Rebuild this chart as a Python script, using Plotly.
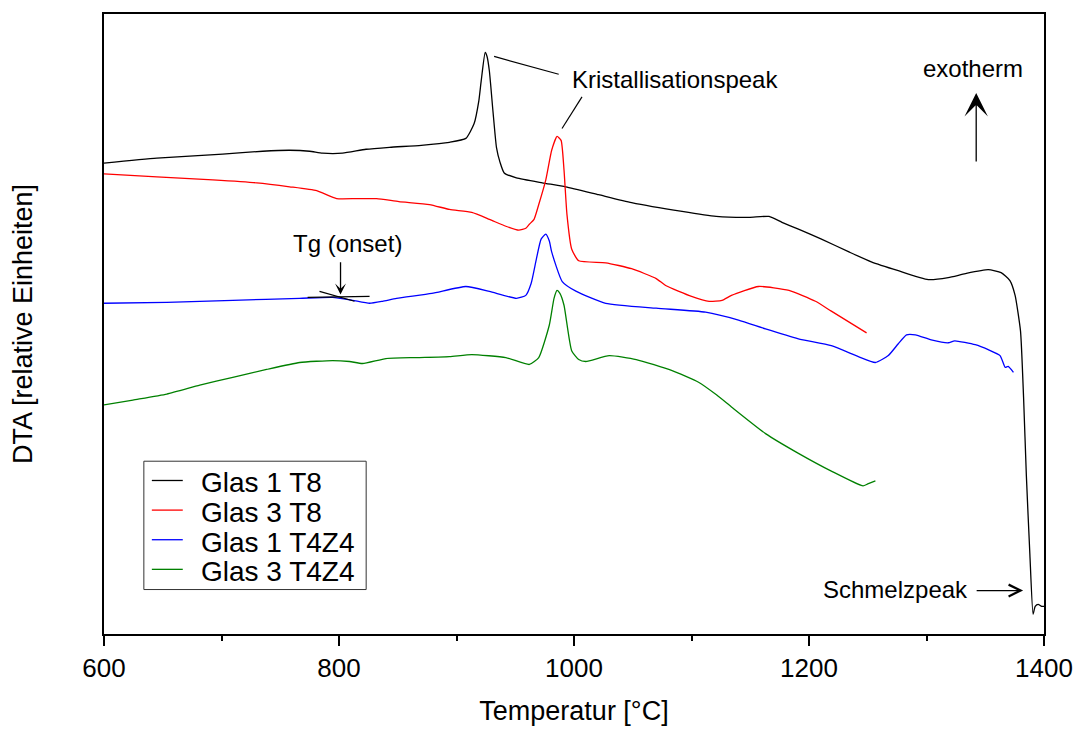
import plotly.graph_objects as go

# DTA curves: temperature in °C, signal in relative units
t_glas1_t8 = [600, 645, 701, 735, 758, 775, 786, 803, 823, 843, 870, 894, 908, 915, 919, 921,
              924.4, 926, 928, 931, 934, 937, 940.6, 951, 973, 993, 1021, 1049, 1092, 1121,
              1149, 1166, 1177, 1191, 1210.6, 1234, 1253, 1276, 1301.5, 1318.5, 1333, 1352.5,
              1363.5, 1371, 1375.4, 1380, 1382.6, 1385, 1388, 1390.7, 1392.5, 1395, 1398, 1400]
dta_glas1_t8 = [477, 482, 486, 489, 490, 489, 487, 487, 491, 493, 495, 498, 502, 517, 540, 560,
                589, 585, 570, 530, 493, 478, 467, 462, 457, 453, 445, 437, 428, 423,
                422, 423, 417, 410, 400, 387, 377, 368, 359, 361, 365, 369,
                366, 358, 343, 307, 240, 160, 80, 20, 28, 30, 28, 28]

t_glas3_t8 = [600, 645, 692.6, 730, 758, 781, 798, 815, 832, 851, 877, 894, 913, 928, 942, 953,
              959, 962, 966, 970, 976, 981, 985.6, 989, 991.5, 994, 998, 1004, 1027, 1049,
              1070, 1078, 1100, 1115, 1126, 1134, 1157, 1183, 1205.5, 1219, 1249]
dta_glas3_t8 = [466, 463, 460, 457, 453, 449, 441, 441, 441, 438, 435, 430, 427, 420, 413, 409,
                411, 415, 420, 435, 460, 490, 504, 500, 470, 425, 390, 378, 376, 370,
                360, 353, 342, 337, 338, 343, 352, 348, 337, 327, 305]

t_glas1_t4z4 = [600, 653.5, 709.6, 766.5, 794.5, 811.5, 826, 837, 849, 879, 908, 928, 951, 959,
                963.5, 968, 972, 976, 979, 981, 990, 1002, 1027, 1070, 1112, 1140, 1163, 1191,
                1219, 1242, 1256.5, 1267.5, 1276, 1283, 1290.5, 1304, 1318.5, 1324, 1341.5,
                1352.5, 1362.6, 1367, 1369.5, 1374]
dta_glas1_t4z4 = [335, 336, 338, 340, 341, 338, 335, 337, 340, 345, 352, 347, 340, 343,
                  355, 380, 400, 405, 398, 387, 357, 347, 335, 330, 326, 318, 309, 299,
                  292, 281, 275, 282, 294, 303, 303, 298, 295, 297, 293,
                  288, 282, 270, 271, 265]

t_glas3_t4z4 = [600, 624.6, 653.5, 681.5, 709.6, 738.4, 766.5, 794.5, 809, 820, 840, 866, 894,
                913, 942, 962, 970, 979, 983, 985.6, 988, 991.5, 998, 1004, 1010, 1030, 1053,
                1083, 1106, 1121.5, 1134, 1163, 1191, 1219, 1246, 1250, 1256.5]
dta_glas3_t4z4 = [232, 237, 243, 252, 260, 268, 275, 277, 276, 274, 279, 280, 281,
                  283, 280, 273, 280, 313, 340, 348, 345, 333, 287, 278, 276, 282, 278,
                  267, 255, 242, 230, 203, 183, 165, 150, 152, 155]

series_names = ["Glas 1 T8", "Glas 3 T8", "Glas 1 T4Z4", "Glas 3 T4Z4"]
series_t = [t_glas1_t8, t_glas3_t8, t_glas1_t4z4, t_glas3_t4z4]
series_dta = [dta_glas1_t8, dta_glas3_t8, dta_glas1_t4z4, dta_glas3_t4z4]
series_colors = ["#000000", "#ff0000", "#0000ff", "#008000"]

x_ticks = [600, 800, 1000, 1200, 1400]

FONT = "Liberation Sans, Arial, sans-serif"

fig = go.Figure()
for name, t, d, c in zip(series_names, series_t, series_dta, series_colors):
    fig.add_trace(go.Scatter(x=t, y=d, mode="lines", name=name,
                             line=dict(color=c, width=1.3, shape="spline", smoothing=0.5),
                             showlegend=False))

# Legend box drawn in paper coordinates
fig.add_shape(type="rect", xref="paper", yref="paper",
              x0=0.0424, x1=0.2789, y0=0.0717, y1=0.2787,
              line=dict(color="#333333", width=1), fillcolor="white", layer="above")
leg_y0 = 0.2436
leg_step = 30 / 628
for i, (name, c) in enumerate(zip(series_names, series_colors)):
    yy = leg_y0 - i * leg_step
    fig.add_shape(type="line", xref="paper", yref="paper",
                  x0=0.0509, x1=0.0838, y0=yy + 0.004, y1=yy + 0.004,
                  line=dict(color=c, width=1.3), layer="above")
    fig.add_annotation(xref="paper", yref="paper", x=0.1010, y=yy,
                       xanchor="left", yanchor="middle", showarrow=False,
                       text=name, font=dict(family=FONT, size=28, color="black"))

# Tangent construction for Tg (onset)
fig.add_shape(type="line", xref="x", yref="y", x0=773.3, y0=341, x1=826, y1=342,
              line=dict(color="black", width=1.2))
fig.add_shape(type="line", xref="x", yref="y", x0=783.4, y0=347, x1=813.2, y1=337,
              line=dict(color="black", width=1.2))

# Leader lines to the crystallisation peaks
fig.add_shape(type="line", xref="x", yref="y", x0=932, y0=585, x1=987, y1=567,
              line=dict(color="black", width=1.2))
fig.add_shape(type="line", xref="x", yref="y", x0=1006.8, y0=544, x1=989.8, y1=512,
              line=dict(color="black", width=1.2))

txt = dict(family=FONT, size=24, color="black")
fig.add_annotation(x=1085.8, y=562, xref="x", yref="y", text="Kristallisationspeak",
                   showarrow=False, font=txt)
fig.add_annotation(x=1339.3, y=573, xref="x", yref="y", text="exotherm",
                   showarrow=False, font=txt)
fig.add_annotation(x=807.2, y=396, xref="x", yref="y", text="Tg (onset)",
                   showarrow=False, font=txt)
fig.add_annotation(x=1274, y=45, xref="x", yref="y", text="Schmelzpeak",
                   showarrow=False, font=txt)

# Arrows
fig.add_annotation(x=1342.3, y=548, ax=1342.3, ay=477, xref="x", yref="y",
                   axref="x", ayref="y", text="", showarrow=True,
                   arrowhead=3, arrowsize=3, arrowwidth=1.3, arrowcolor="black")
fig.add_annotation(x=801.3, y=344, ax=801.3, ay=378, xref="x", yref="y",
                   axref="x", ayref="y", text="", showarrow=True,
                   arrowhead=3, arrowsize=1.4, arrowwidth=1.3, arrowcolor="black")
fig.add_annotation(x=1382.2, y=44, ax=1341.4, ay=44, xref="x", yref="y",
                   axref="x", ayref="y", text="", showarrow=True,
                   arrowhead=5, arrowsize=1.8, arrowwidth=1.3, arrowcolor="black")

fig.update_layout(
    width=1085, height=733,
    margin=dict(l=104, r=38, t=12, b=93),
    paper_bgcolor="white", plot_bgcolor="white",
    font=dict(family=FONT, color="black"),
)
fig.update_xaxes(
    range=[600, 1400], tickvals=x_ticks, ticktext=[str(v) for v in x_ticks],
    ticks="outside", ticklen=10, tickwidth=1.5, tickcolor="black",
    minor=dict(dtick=100, tick0=600, ticks="outside", ticklen=5, tickwidth=1.5, tickcolor="black"),
    showline=True, linecolor="black", linewidth=1.8, mirror=True,
    showgrid=False, zeroline=False,
    tickfont=dict(family=FONT, size=26, color="black"),
    title=dict(text="Temperatur [°C]", font=dict(family=FONT, size=27, color="black"), standoff=19),
)
fig.update_yaxes(
    range=[0, 628], showticklabels=False, ticks="",
    showline=True, linecolor="black", linewidth=1.8, mirror=True,
    showgrid=False, zeroline=False,
    title=dict(text="DTA [relative Einheiten]", font=dict(family=FONT, size=27, color="black"), standoff=62),
)

fig.write_html("out.html")
